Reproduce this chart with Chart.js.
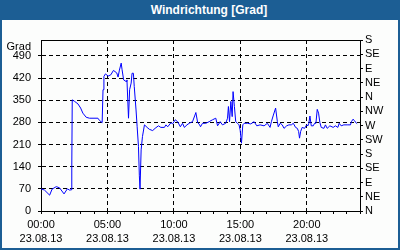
<!DOCTYPE html>
<html lang="de">
<head>
<meta charset="utf-8">
<title>Windrichtung</title>
<script src="https://cdn.jsdelivr.net/npm/chart.js@4.4.1/dist/chart.umd.min.js"></script>
<style>
  html, body { margin: 0; padding: 0; }
  body {
    width: 400px; height: 250px; position: relative; overflow: hidden;
    background: #fcfdfc; font-family: 'Liberation Sans', Arial, sans-serif;
  }
  #chart { position: absolute; left: 0; top: 0; }
  .frame {
    position: absolute; left: 0; top: 0; width: 400px; height: 250px;
    box-sizing: border-box; border: 2px solid #1c5e94; border-top: 0;
    pointer-events: none;
  }
  .titlebar {
    position: absolute; left: 0; top: 0; width: 400px; height: 20px;
    box-sizing: border-box; padding-left: 18px;
    background: #1c5e94; color: #fff; font-weight: bold; font-size: 12px;
    line-height: 20px; text-align: center;
  }
</style>
</head>
<body>
<canvas id="chart" width="400" height="250"></canvas>
<div class="frame"></div>
<div class="titlebar">Windrichtung [Grad]</div>

<script>
// ─── Daten ──────────────────────────────────────

// Zeitpunkt (Minuten ab 00:00) und Windrichtung in Grad
const windMin = [
  0, 16, 39, 50, 69, 84, 104, 119, 129, 136, 139, 141, 152, 167, 179, 189, 204, 219, 257, 264,
  276, 280, 284, 291, 303, 315, 327, 342, 348, 354, 362, 366, 373, 384, 388, 395, 400, 407, 411, 417,
  421, 429, 434, 440, 444, 447, 452, 458, 467, 479, 489, 504, 515, 530, 541, 557, 564, 572, 587, 594,
  606, 617, 629, 639, 647, 659, 669, 684, 695, 699, 707, 716, 720, 729, 744, 759, 774, 789, 797, 809,
  819, 834, 842, 846, 851, 857, 863, 867, 873, 879, 887, 894, 899, 905, 911, 917, 932, 947, 962, 974,
  989, 1007, 1022, 1034, 1040, 1049, 1059, 1067, 1071, 1080, 1089, 1097, 1109, 1119, 1130, 1139, 1149, 1157, 1163, 1167,
  1172, 1179, 1190, 1199, 1205, 1209, 1214, 1220, 1229, 1235, 1241, 1247, 1253, 1259, 1265, 1277, 1284, 1292, 1304, 1319,
  1329, 1340, 1346, 1355, 1367, 1382, 1397, 1401, 1409, 1415, 1424, 1427
];
const windGrad = [
  70, 66, 50, 69, 77, 73, 54, 70, 66, 67, 140, 351, 346, 338, 325, 309, 296, 293, 293, 286,
  279, 383, 425, 433, 426, 430, 444, 436, 423, 445, 467, 446, 414, 409, 414, 293, 383, 404, 435, 435,
  393, 319, 266, 203, 111, 69, 193, 235, 272, 264, 258, 254, 261, 269, 264, 264, 272, 266, 279, 275,
  288, 282, 266, 277, 264, 272, 277, 282, 303, 311, 280, 272, 266, 277, 277, 282, 288, 293, 269, 282,
  272, 277, 293, 330, 282, 346, 298, 377, 330, 282, 277, 272, 256, 214, 272, 277, 277, 275, 282, 269,
  272, 269, 277, 264, 282, 303, 325, 282, 266, 277, 272, 261, 269, 272, 272, 277, 264, 261, 251, 230,
  251, 264, 261, 272, 269, 277, 300, 269, 269, 277, 277, 321, 309, 279, 264, 261, 272, 261, 269, 264,
  269, 264, 277, 269, 272, 272, 272, 282, 290, 285, 277, 275
];

// Achsen
const hourTicks  = [0, 60, 120, 180, 240, 300, 360, 420, 480, 540, 600, 660, 720, 780, 840, 900,
                    960, 1020, 1080, 1140, 1200, 1260, 1320, 1380, 1440];
const majorTicks = [0, 300, 600, 900, 1200];
const timeLabels = ['00:00', '05:00', '10:00', '15:00', '20:00'];
const dateLabel  = '23.08.13';

const gradTicks = [0, 70, 140, 210, 280, 350, 420, 490, 540];
const gradUnit  = 'Grad';

const dirTicks  = [0, 45, 90, 135, 180, 225, 270, 315, 360, 405, 450, 495, 540];
const dirLabels = ['N', 'NE', 'E', 'SE', 'S', 'SW', 'W', 'NW', 'N', 'NE', 'E', 'SE', 'S'];

// ─── Chart ──────────────────────────────────────

const FONT = { family: "'Liberation Sans', Arial, sans-serif", size: 11, lineHeight: 1.3 };
const NONE = 'rgba(0,0,0,0)';

const gridX = c => (c.tick && majorTicks.includes(c.tick.value)) ? '#000' : NONE;
const gridY = c => (c.tick && c.tick.value === 540) ? NONE : '#000';

new Chart(document.getElementById('chart'), {
  type: 'line',
  data: {
    datasets: [{
      data: windMin.map((m, i) => ({ x: m, y: windGrad[i] })),
      xAxisID: 'x',
      yAxisID: 'y',
      borderColor: '#0000ff',
      borderWidth: 1,
      pointRadius: 0,
      tension: 0,
    }],
  },
  options: {
    responsive: false,
    animation: false,
    layout: { padding: { top: 40, left: 0, right: 0, bottom: 0 } },
    plugins: { legend: { display: false }, tooltip: { enabled: false } },
    scales: {
      x: {
        type: 'linear', position: 'bottom', min: 0, max: 1440,
        afterBuildTicks: s => { s.ticks = hourTicks.map(v => ({ value: v })); },
        afterFit: s => { s.height = 39; },
        grid: { color: gridX, tickColor: '#000', tickLength: 3 },
        border: { color: '#000', dash: [4, 3] },
        ticks: {
          autoSkip: false, maxRotation: 0, minRotation: 0, padding: 4, color: '#000', font: FONT,
          callback: v => {
            const i = majorTicks.indexOf(v);
            return i >= 0 ? [timeLabels[i], dateLabel] : '';
          },
        },
      },
      xTop: {
        type: 'linear', position: 'top', min: 0, max: 1440,
        afterFit: s => { s.height = 0; },
        grid: { drawOnChartArea: false, drawTicks: false },
        ticks: { display: false },
        border: { color: '#000' },
      },
      y: {
        type: 'linear', position: 'left', min: 0, max: 540,
        afterBuildTicks: s => { s.ticks = gradTicks.map(v => ({ value: v })); },
        afterFit: s => { s.width = 41; },
        grid: { color: gridY, tickColor: gridY, tickLength: 3 },
        border: { color: '#000', dash: [4, 3] },
        ticks: {
          autoSkip: false, padding: 7, color: '#000', font: FONT,
          callback: v => v === 540 ? ['', gradUnit] : String(v),
        },
      },
      yDir: {
        type: 'linear', position: 'right', min: 0, max: 540,
        afterBuildTicks: s => { s.ticks = dirTicks.map(v => ({ value: v })); },
        afterFit: s => { s.width = 40; },
        grid: { drawOnChartArea: false, tickColor: '#000', tickLength: 3 },
        border: { color: '#000' },
        ticks: {
          autoSkip: false, padding: 2, color: '#000', font: FONT,
          callback: (v, i) => dirLabels[i],
        },
      },
    },
  },
});
</script>
</body>
</html>
